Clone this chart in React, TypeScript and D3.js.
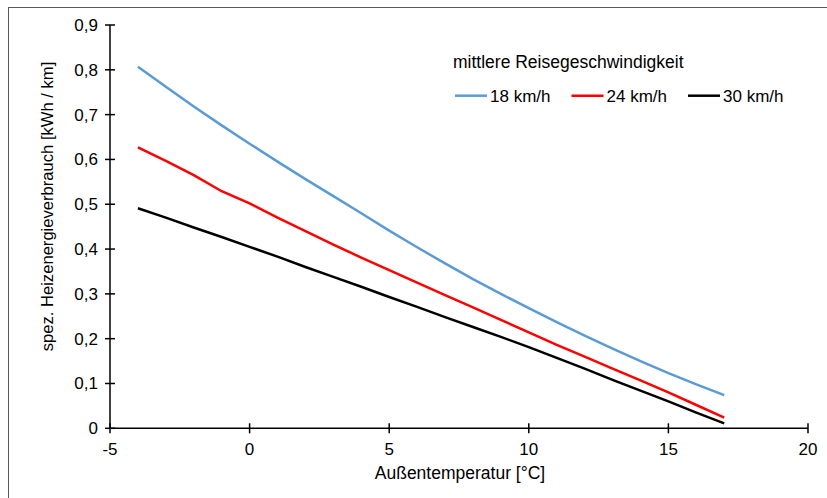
import React from "react";
import * as d3 from "d3";

// Außentemperatur [°C]
const temps = [-4, -3, -2, -1, 0, 1, 2, 3, 4, 5, 6, 7, 8, 9, 10, 11, 12, 13, 14, 15, 16, 17];

// spez. Heizenergieverbrauch [kWh / km] je Reisegeschwindigkeit
const v18 = [0.807, 0.762, 0.718, 0.676, 0.635, 0.595, 0.556, 0.518, 0.48, 0.441, 0.404, 0.368, 0.333, 0.3, 0.268, 0.237, 0.207, 0.178, 0.15, 0.123, 0.098, 0.074];
const v24 = [0.627, 0.597, 0.565, 0.529, 0.502, 0.47, 0.44, 0.41, 0.381, 0.353, 0.325, 0.297, 0.27, 0.242, 0.214, 0.186, 0.16, 0.133, 0.107, 0.08, 0.052, 0.024];
const v30 = [0.491, 0.47, 0.448, 0.427, 0.405, 0.383, 0.36, 0.338, 0.316, 0.293, 0.271, 0.248, 0.226, 0.204, 0.181, 0.157, 0.133, 0.108, 0.084, 0.06, 0.035, 0.011];

const seriesNames = ["18 km/h", "24 km/h", "30 km/h"];
const seriesColors = ["#5b9bd5", "#ff0000", "#000000"];

const xTicks = [-5, 0, 5, 10, 15, 20];
const yTicks = [0, 0.1, 0.2, 0.3, 0.4, 0.5, 0.6, 0.7, 0.8, 0.9];

const width = 827;
const height = 498;
const font = "'Liberation Sans', Arial, sans-serif";

export default function App() {
  const x = d3.scaleLinear().domain([-5, 20]).range([110, 808]);
  const y = d3.scaleLinear().domain([0, 0.9]).range([428.3, 25]);

  const series = [v18, v24, v30].map((vals, i) => ({
    name: seriesNames[i],
    color: seriesColors[i],
    points: temps.map((t, j) => [t, vals[j]] as [number, number]),
  }));

  const line = d3.line<[number, number]>()
    .x(d => x(d[0]))
    .y(d => y(d[1]));

  const fmt = (v: number) => (v === 0 ? "0" : v.toFixed(1).replace(".", ","));
  const y0 = y(0);

  const legendX = [455, 571.5, 688];

  return (
    <svg width={width} height={height} style={{ position: "absolute", left: 0, top: 0 }} fontFamily={font}>
      <rect x={0} y={0} width={width} height={height} fill="#fff" />
      <rect x={8.5} y={7.5} width={900} height={600} fill="none" stroke="#595959" strokeWidth={1} />

      {series.map(s => (
        <path key={s.name} d={line(s.points) || ""} fill="none" stroke={s.color} strokeWidth={2.5} />
      ))}

      {/* y axis */}
      <line x1={x(-5)} x2={x(-5)} y1={y(0.9)} y2={y0} stroke="#000" strokeWidth={1.5} />
      {yTicks.map(t => (
        <g key={t}>
          <line x1={x(-5) - 5} x2={x(-5) + 5} y1={y(t)} y2={y(t)} stroke="#000" strokeWidth={1.5} />
          <text x={x(-5) - 12} y={y(t)} dy="0.35em" textAnchor="end" fontSize={17} fill="#000">{fmt(t)}</text>
        </g>
      ))}

      {/* x axis */}
      <line x1={x(-5)} x2={x(20)} y1={y0} y2={y0} stroke="#000" strokeWidth={1.5} />
      {xTicks.map(t => (
        <g key={t}>
          <line x1={x(t)} x2={x(t)} y1={y0 - 5} y2={y0 + 5} stroke="#000" strokeWidth={1.5} />
          <text x={x(t)} y={y0 + 27} textAnchor="middle" fontSize={17} fill="#000">{t}</text>
        </g>
      ))}

      <text x={460} y={479} textAnchor="middle" fontSize={17.5} fill="#000">Außentemperatur [°C]</text>
      <text transform="translate(53,206.5) rotate(-90)" textAnchor="middle" fontSize={16.6} fill="#000">
        spez. Heizenergieverbrauch [kWh / km]
      </text>

      {/* legend */}
      <text x={453} y={68} fontSize={17.5} fill="#000">mittlere Reisegeschwindigkeit</text>
      {series.map((s, i) => (
        <g key={s.name}>
          <line x1={legendX[i]} x2={legendX[i] + 32} y1={95.7} y2={95.7} stroke={s.color} strokeWidth={2.5} />
          <text x={legendX[i] + 35} y={95.7} dy="0.35em" fontSize={17} fill="#000">{s.name}</text>
        </g>
      ))}
    </svg>
  );
}
